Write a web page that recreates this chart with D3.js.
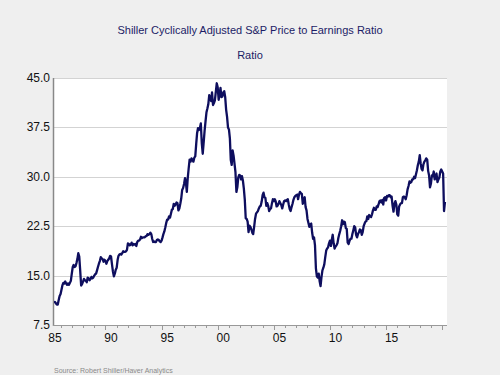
<!DOCTYPE html>
<html>
<head>
<meta charset="utf-8">
<script src="https://cdn.jsdelivr.net/npm/d3@7"></script>
<style>
  body { margin: 0; background: #efefef; }
  svg { display: block; font-family: "Liberation Sans", Arial, sans-serif; }
</style>
</head>
<body>
<div id="chart"></div>
<script>
// monthly CAPE, first value is June 1985
const firstMonth = new Date(1985, 5, 1);
const cape = [
  10.9, 11.0, 10.8, 10.6, 10.6, 11.3, 11.9,
  12.2, 12.9, 13.5, 13.9, 13.8, 14.1, 13.8, 13.6, 13.8, 13.6, 13.9, 14.2,
  15.3, 16.3, 16.6, 16.3, 16.4, 16.9, 17.5, 18.4, 17.9, 15.8, 13.5, 13.7,
  14.1, 14.5, 14.3, 14.2, 14.0, 14.7, 14.6, 14.3, 14.5, 14.8, 14.6, 14.7,
  15.0, 15.2, 15.3, 15.8, 16.3, 16.8, 17.2, 17.8, 17.6, 17.5, 17.1, 17.4,
  17.2, 16.8, 17.2, 17.4, 17.6, 18.0, 17.9, 16.7, 15.6, 14.9, 15.3, 15.9,
  16.2, 17.4, 18.0, 18.2, 18.3, 18.2, 18.4, 18.7, 18.6, 18.6, 18.7, 18.9,
  19.9, 19.8, 19.6, 19.7, 20.0, 19.6, 19.8, 19.7, 19.8, 19.5, 20.1, 20.3,
  20.3, 20.5, 20.9, 20.7, 20.8, 20.8, 20.8, 21.0, 21.0, 21.3, 21.2, 21.3,
  21.5, 21.3, 20.6, 20.1, 20.2, 20.1, 20.1, 20.4, 20.5, 20.4, 20.2, 20.1,
  20.3, 20.8, 21.3, 21.7, 22.3, 23.0, 23.5, 23.5, 24.0, 23.8, 24.4, 25.0,
  25.1, 25.9, 25.6, 25.8, 26.1, 26.0, 24.9, 25.2, 25.9, 26.7, 28.0, 28.3,
  28.9, 29.8, 29.2, 27.7, 29.8, 31.3, 32.6, 32.3, 32.8, 32.6, 32.3, 32.9,
  33.1, 35.0, 36.6, 37.4, 37.1, 37.4, 38.1, 35.1, 33.5, 35.2, 37.0, 38.4,
  39.8, 40.4, 41.0, 42.4, 42.0, 41.5, 42.8, 40.9, 41.2, 41.6, 42.9, 44.2,
  43.6, 41.7, 42.5, 43.5, 42.1, 42.2, 42.8, 43.0, 42.1, 40.2, 39.1, 37.5,
  37.2, 35.8, 32.6, 31.8, 34.0, 33.2, 32.0, 30.7, 27.7, 28.4, 29.9, 30.3,
  30.2, 29.6, 30.1, 29.4, 28.2, 26.5, 23.7, 23.6, 23.2, 21.6, 22.6, 22.4,
  22.0, 21.5, 21.3, 22.4, 23.6, 24.4, 24.6, 24.8, 25.2, 25.5, 25.6, 26.2,
  27.2, 27.6, 26.9, 26.8, 25.6, 26.0, 25.6, 24.8, 25.1, 25.2, 26.0, 26.6,
  26.3, 26.6, 26.3, 25.5, 25.6, 25.9, 26.3, 26.0, 25.7, 25.2, 25.8, 26.3,
  26.4, 26.3, 26.5, 26.6, 25.8, 25.1, 24.8, 25.4, 25.9, 26.5, 26.9, 27.1,
  27.2, 27.3, 26.6, 27.3, 27.7, 27.5, 27.4, 25.9, 26.5, 26.9, 25.4, 24.9,
  23.6, 23.0, 22.4, 22.8, 22.9, 21.5, 20.6, 20.8, 19.6, 16.1, 14.9, 14.7,
  15.3, 14.1, 13.4, 14.8, 15.8, 16.2, 16.7, 17.8, 18.8, 19.1, 19.3, 19.9,
  20.3, 19.5, 20.4, 21.2, 19.9, 19.1, 19.4, 19.6, 19.9, 20.7, 21.3, 21.8,
  22.5, 23.4, 22.8, 23.2, 23.1, 22.2, 22.1, 20.0, 19.8, 20.3, 20.6, 20.6,
  21.3, 21.9, 22.5, 22.3, 21.2, 20.8, 21.3, 21.6, 22.0, 21.9, 21.2, 21.6,
  22.5, 22.9, 23.2, 23.3, 24.0, 23.6, 24.2, 24.0, 23.9, 24.3, 24.9, 25.3,
  25.0, 25.0, 25.5, 25.4, 25.8, 26.3, 26.4, 26.1, 26.5, 25.8, 26.8, 26.9,
  26.4, 27.1, 27.0, 27.2, 27.2, 26.9, 27.0, 25.6, 24.7, 25.9, 26.3, 25.8,
  24.3, 24.1, 25.5, 25.8, 26.0, 26.0, 26.9, 27.0, 26.9, 26.6, 27.2, 28.1,
  28.6, 29.3, 29.1, 29.2, 29.6, 29.6, 30.0, 29.8, 30.4, 31.0, 31.8, 32.3,
  33.3, 32.0, 31.2, 31.0, 31.9, 32.3, 32.5, 32.8, 32.6, 30.9, 30.2, 28.4,
  29.0, 30.2, 30.1, 30.8, 29.6, 29.9, 30.5, 29.2, 29.6, 29.9, 30.8, 31.1,
  30.8, 30.5, 24.8, 26.2
];
const yTicks = [7.5, 15.0, 22.5, 30.0, 37.5, 45.0];
const labelYears = [1985, 1990, 1995, 2000, 2005, 2010, 2015];

const width = 500, height = 375;
const plotL = 54, plotR = 447, plotT = 78, plotB = 325;

const data = cape.map((v, i) => ({ date: d3.timeMonth.offset(firstMonth, i), value: v }));

const svg = d3.select('#chart').append('svg').attr('width', width).attr('height', height);

svg.append('rect').attr('width', width).attr('height', height).attr('fill', '#efefef');

const x = d3.scaleTime()
  .domain([new Date(1985, 5, 1), new Date(2020, 5, 6)])
  .range([plotL, plotR]);
const y = d3.scaleLinear().domain([7.5, 45]).range([plotB, plotT]);

// plot area
svg.append('rect')
  .attr('x', plotL).attr('y', plotT)
  .attr('width', plotR - plotL).attr('height', plotB - plotT)
  .attr('fill', '#fff');

// gridlines + y labels
svg.append('g')
  .selectAll('line')
  .data(yTicks)
  .enter()
  .append('line')
  .attr('x1', plotL).attr('x2', plotR)
  .attr('y1', d => Math.round(y(d)) + 0.5).attr('y2', d => Math.round(y(d)) + 0.5)
  .style('stroke', '#d3d3d3')
  .style('stroke-width', 1);

svg.append('g')
  .selectAll('text')
  .data(yTicks)
  .enter()
  .append('text')
  .attr('x', plotL - 4)
  .attr('y', d => y(d) + 4)
  .attr('text-anchor', 'end')
  .style('font-size', '12px')
  .style('fill', '#111')
  .text(d => d3.format('.1f')(d));

// x axis ticks (year boundaries), labels centred in the year
const years = d3.timeYear.range(new Date(1986, 0, 1), new Date(2020, 1, 1));
svg.append('g')
  .selectAll('line')
  .data(years)
  .enter()
  .append('line')
  .attr('x1', d => Math.round(x(d)) + 0.5).attr('x2', d => Math.round(x(d)) + 0.5)
  .attr('y1', plotB + 1)
  .attr('y2', d => plotB + (d.getFullYear() % 5 === 0 ? 5 : 3))
  .style('stroke', '#999')
  .style('stroke-width', 1);

svg.append('g')
  .selectAll('text')
  .data(labelYears)
  .enter()
  .append('text')
  .attr('x', d => x(new Date(d, 6, 1)))
  .attr('y', 342)
  .attr('text-anchor', 'middle')
  .style('font-size', '12px')
  .style('fill', '#111')
  .text(d => String(d).slice(2));

// axis lines
svg.append('line')
  .attr('x1', plotL - 0.5).attr('x2', plotL - 0.5).attr('y1', plotT).attr('y2', plotB + 1)
  .style('stroke', '#888').style('stroke-width', 1.5);
svg.append('line')
  .attr('x1', plotL - 1).attr('x2', plotR).attr('y1', plotB + 0.5).attr('y2', plotB + 0.5)
  .style('stroke', '#999').style('stroke-width', 1);

// series
svg.append('defs').append('clipPath').attr('id', 'plot')
  .append('rect').attr('x', plotL).attr('y', plotT - 2).attr('width', plotR - plotL).attr('height', plotB - plotT + 2);

const line = d3.line().x(d => x(d.date)).y(d => y(d.value));
svg.append('path')
  .datum(data)
  .attr('d', line)
  .attr('clip-path', 'url(#plot)')
  .style('fill', 'none')
  .style('stroke', '#0e0e5e')
  .style('stroke-width', 2.3)
  .style('stroke-linejoin', 'round');

// titles
svg.append('text')
  .attr('x', 250).attr('y', 34)
  .attr('text-anchor', 'middle')
  .style('font-size', '11px')
  .style('fill', '#1c1c66')
  .text('Shiller Cyclically Adjusted S&P Price to Earnings Ratio');

svg.append('text')
  .attr('x', 250).attr('y', 59)
  .attr('text-anchor', 'middle')
  .style('font-size', '11px')
  .style('fill', '#1c1c66')
  .text('Ratio');

svg.append('text')
  .attr('x', 54).attr('y', 373)
  .style('font-size', '7px')
  .style('fill', '#8a8a8a')
  .text('Source:  Robert Shiller/Haver Analytics');
</script>
</body>
</html>
